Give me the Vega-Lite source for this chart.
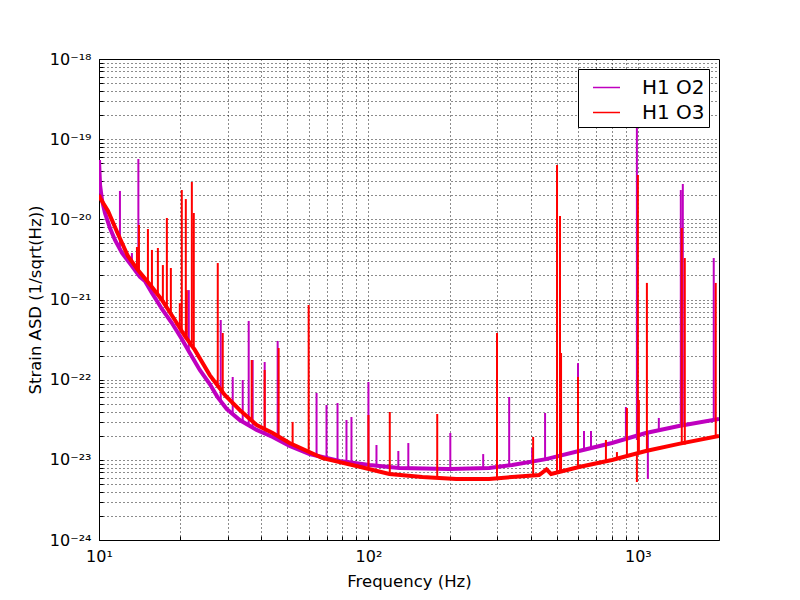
{
  "$schema": "https://vega.github.io/schema/vega-lite/v6.json",
  "width": 620,
  "height": 481,
  "autosize": "none",
  "padding": {"left": 99, "top": 59, "right": 81, "bottom": 60},
  "background": "white",
  "config": {
    "view": {"stroke": "black", "strokeWidth": 1},
    "font": "DejaVu Sans",
    "axis": {
      "grid": true,
      "gridDash": [1, 3],
      "gridColor": "#000000",
      "gridOpacity": 0.9,
      "gridWidth": 1,
      "domainColor": "#000000",
      "tickColor": "#000000",
      "tickSize": -4,
      "labelPadding": 12,
      "labelFont": "DejaVu Sans",
      "labelFontSize": 16,
      "labelColor": "#000000",
      "labelOverlap": false,
      "labelFlush": false,
      "labelBound": false,
      "titleFont": "DejaVu Sans",
      "titleFontSize": 16.5,
      "titleFontWeight": "normal",
      "titleColor": "#000000"
    },
    "legend": {
      "orient": "top-right",
      "offset": 10,
      "strokeColor": "#000000",
      "fillColor": "#ffffff",
      "padding": 4,
      "cornerRadius": 0,
      "labelFont": "DejaVu Sans",
      "labelFontSize": 20,
      "labelColor": "#000000",
      "labelOffset": 21,
      "symbolType": "stroke",
      "symbolSize": 729,
      "symbolOffset": 10,
      "symbolStrokeWidth": 1.5,
      "rowPadding": 0
    }
  },
  "datasets": {
    "baseline": [
      {"series": "H1 O2", "f": 10, "asd": 5.5e-20},
      {"series": "H1 O2", "f": 10.09, "asd": 2.68e-20},
      {"series": "H1 O2", "f": 10.26, "asd": 1.74e-20},
      {"series": "H1 O2", "f": 10.52, "asd": 1.2e-20},
      {"series": "H1 O2", "f": 10.98, "asd": 7.8e-21},
      {"series": "H1 O2", "f": 11.46, "asd": 5.53e-21},
      {"series": "H1 O2", "f": 12.17, "asd": 3.8e-21},
      {"series": "H1 O2", "f": 13.25, "asd": 2.62e-21},
      {"series": "H1 O2", "f": 14.19, "asd": 1.91e-21},
      {"series": "H1 O2", "f": 14.8, "asd": 1.7e-21},
      {"series": "H1 O2", "f": 15.72, "asd": 1.21e-21},
      {"series": "H1 O2", "f": 17.12, "asd": 7.61e-22},
      {"series": "H1 O2", "f": 18.64, "asd": 5.09e-22},
      {"series": "H1 O2", "f": 20.29, "asd": 3.22e-22},
      {"series": "H1 O2", "f": 21.73, "asd": 2.15e-22},
      {"series": "H1 O2", "f": 23.66, "asd": 1.32e-22},
      {"series": "H1 O2", "f": 25.77, "asd": 8.83e-23},
      {"series": "H1 O2", "f": 27.5, "asd": 6.1e-23},
      {"series": "H1 O2", "f": 29.8, "asd": 4.3e-23},
      {"series": "H1 O2", "f": 33.29, "asd": 3.14e-23},
      {"series": "H1 O2", "f": 38.47, "asd": 2.36e-23},
      {"series": "H1 O2", "f": 44.11, "asd": 1.93e-23},
      {"series": "H1 O2", "f": 50.98, "asd": 1.49e-23},
      {"series": "H1 O2", "f": 60.46, "asd": 1.18e-23},
      {"series": "H1 O2", "f": 78.1, "asd": 9.67e-24},
      {"series": "H1 O2", "f": 100.9, "asd": 8.63e-24},
      {"series": "H1 O2", "f": 130.2, "asd": 7.91e-24},
      {"series": "H1 O2", "f": 199.5, "asd": 7.69e-24},
      {"series": "H1 O2", "f": 280.6, "asd": 7.91e-24},
      {"series": "H1 O2", "f": 341.5, "asd": 8.63e-24},
      {"series": "H1 O2", "f": 456.3, "asd": 1.02e-23},
      {"series": "H1 O2", "f": 604.6, "asd": 1.29e-23},
      {"series": "H1 O2", "f": 801.3, "asd": 1.62e-23},
      {"series": "H1 O2", "f": 1070.5, "asd": 2.16e-23},
      {"series": "H1 O2", "f": 1419, "asd": 2.64e-23},
      {"series": "H1 O2", "f": 2000, "asd": 3.23e-23},
      {"series": "H1 O3", "f": 10, "asd": 2.01e-20},
      {"series": "H1 O3", "f": 10.09, "asd": 1.85e-20},
      {"series": "H1 O3", "f": 10.8, "asd": 1.27e-20},
      {"series": "H1 O3", "f": 11.76, "asd": 6.56e-21},
      {"series": "H1 O3", "f": 12.8, "asd": 3.49e-21},
      {"series": "H1 O3", "f": 13.95, "asd": 2.33e-21},
      {"series": "H1 O3", "f": 15.72, "asd": 1.43e-21},
      {"series": "H1 O3", "f": 17.12, "asd": 9.86e-22},
      {"series": "H1 O3", "f": 19.12, "asd": 5.55e-22},
      {"series": "H1 O3", "f": 20.82, "asd": 3.51e-22},
      {"series": "H1 O3", "f": 22.68, "asd": 2.35e-22},
      {"series": "H1 O3", "f": 25.77, "asd": 1.14e-22},
      {"series": "H1 O3", "f": 29.29, "asd": 6.44e-23},
      {"series": "H1 O3", "f": 33.29, "asd": 4.19e-23},
      {"series": "H1 O3", "f": 38.47, "asd": 2.72e-23},
      {"series": "H1 O3", "f": 44.11, "asd": 2.16e-23},
      {"series": "H1 O3", "f": 50.98, "asd": 1.62e-23},
      {"series": "H1 O3", "f": 67.55, "asd": 1.05e-23},
      {"series": "H1 O3", "f": 90.27, "asd": 8.38e-24},
      {"series": "H1 O3", "f": 119.6, "asd": 6.66e-24},
      {"series": "H1 O3", "f": 158.5, "asd": 6.11e-24},
      {"series": "H1 O3", "f": 211.8, "asd": 5.77e-24},
      {"series": "H1 O3", "f": 280.6, "asd": 5.77e-24},
      {"series": "H1 O3", "f": 341.5, "asd": 6.11e-24},
      {"series": "H1 O3", "f": 429.9, "asd": 6.47e-24},
      {"series": "H1 O3", "f": 458, "asd": 7.6e-24},
      {"series": "H1 O3", "f": 476.2, "asd": 6.66e-24},
      {"series": "H1 O3", "f": 604.6, "asd": 8.14e-24},
      {"series": "H1 O3", "f": 801.3, "asd": 9.96e-24},
      {"series": "H1 O3", "f": 1070.5, "asd": 1.29e-23},
      {"series": "H1 O3", "f": 1419, "asd": 1.58e-23},
      {"series": "H1 O3", "f": 2000, "asd": 1.98e-23}
    ],
    "spikes": [
      {"series": "H1 O2", "f": 11.96, "base": 4.15e-21, "peak": 2.26e-20},
      {"series": "H1 O2", "f": 13.25, "base": 2.62e-21, "peak": 3.8e-21},
      {"series": "H1 O2", "f": 14.0, "base": 2.02e-21, "peak": 5.66e-20},
      {"series": "H1 O2", "f": 21.54, "base": 2.35e-22, "peak": 1.31e-21},
      {"series": "H1 O2", "f": 28.3, "base": 5.2e-23, "peak": 5.55e-22},
      {"series": "H1 O2", "f": 31.35, "base": 3.73e-23, "peak": 1.08e-22},
      {"series": "H1 O2", "f": 34.15, "base": 3.05e-23, "peak": 9.91e-23},
      {"series": "H1 O2", "f": 35.94, "base": 2.8e-23, "peak": 5.4e-22},
      {"series": "H1 O2", "f": 37.18, "base": 2.57e-23, "peak": 1.76e-22},
      {"series": "H1 O2", "f": 41.2, "base": 2.22e-23, "peak": 1.66e-22},
      {"series": "H1 O2", "f": 46.03, "base": 1.82e-23, "peak": 3.04e-22},
      {"series": "H1 O2", "f": 64.18, "base": 1.15e-23, "peak": 6.82e-23},
      {"series": "H1 O2", "f": 69.88, "base": 1.08e-23, "peak": 4.83e-23},
      {"series": "H1 O2", "f": 76.78, "base": 9.96e-24, "peak": 5.12e-23},
      {"series": "H1 O2", "f": 82.88, "base": 9.4e-24, "peak": 3.14e-23},
      {"series": "H1 O2", "f": 86.49, "base": 9.14e-24, "peak": 3.42e-23},
      {"series": "H1 O2", "f": 100, "base": 8.63e-24, "peak": 9.36e-23},
      {"series": "H1 O2", "f": 107.1, "base": 8.38e-24, "peak": 1.53e-23},
      {"series": "H1 O2", "f": 129.1, "base": 7.91e-24, "peak": 1.29e-23},
      {"series": "H1 O2", "f": 140.6, "base": 7.91e-24, "peak": 1.62e-23},
      {"series": "H1 O2", "f": 201.3, "base": 7.69e-24, "peak": 2.16e-23},
      {"series": "H1 O2", "f": 266.6, "base": 7.91e-24, "peak": 1.18e-23},
      {"series": "H1 O2", "f": 332.9, "base": 8.38e-24, "peak": 6.08e-23},
      {"series": "H1 O2", "f": 405, "base": 9.4e-24, "peak": 1.41e-23},
      {"series": "H1 O2", "f": 452.4, "base": 9.96e-24, "peak": 3.84e-23},
      {"series": "H1 O2", "f": 599.5, "base": 1.29e-23, "peak": 1.61e-22},
      {"series": "H1 O2", "f": 631, "base": 1.33e-23, "peak": 2.29e-23},
      {"series": "H1 O2", "f": 669.8, "base": 1.37e-23, "peak": 2.29e-23},
      {"series": "H1 O2", "f": 902.7, "base": 1.88e-23, "peak": 4.56e-23},
      {"series": "H1 O2", "f": 991.5, "base": 1.77e-23, "peak": 4.11e-19},
      {"series": "H1 O2", "f": 1089, "base": 2.2e-23, "peak": 5.77e-24},
      {"series": "H1 O2", "f": 1196, "base": 2.36e-23, "peak": 3.33e-23},
      {"series": "H1 O2", "f": 1443, "base": 2.64e-23, "peak": 2.32e-20},
      {"series": "H1 O2", "f": 1468, "base": 2.64e-23, "peak": 2.76e-20},
      {"series": "H1 O2", "f": 1912, "base": 3.14e-23, "peak": 3.29e-21},
      {"series": "H1 O3", "f": 13.83, "base": 2.45e-21, "peak": 4.52e-21},
      {"series": "H1 O3", "f": 14.07, "base": 2.33e-21, "peak": 8.5e-21},
      {"series": "H1 O3", "f": 15.19, "base": 1.61e-21, "peak": 7.58e-21},
      {"series": "H1 O3", "f": 15.72, "base": 1.43e-21, "peak": 4.15e-21},
      {"series": "H1 O3", "f": 16.54, "base": 1.14e-21, "peak": 4.39e-21},
      {"series": "H1 O3", "f": 17.26, "base": 9.3e-22, "peak": 2.69e-21},
      {"series": "H1 O3", "f": 17.86, "base": 8.07e-22, "peak": 1.04e-20},
      {"series": "H1 O3", "f": 18.48, "base": 6.8e-22, "peak": 2.47e-21},
      {"series": "H1 O3", "f": 19.95, "base": 4.6e-22, "peak": 9.05e-22},
      {"series": "H1 O3", "f": 20.29, "base": 4.17e-22, "peak": 2.32e-20},
      {"series": "H1 O3", "f": 21.0, "base": 3.51e-22, "peak": 1.79e-20},
      {"series": "H1 O3", "f": 21.18, "base": 3.4e-22, "peak": 1.31e-21},
      {"series": "H1 O3", "f": 22.11, "base": 2.87e-22, "peak": 2.92e-20},
      {"series": "H1 O3", "f": 22.48, "base": 2.6e-22, "peak": 1.2e-20},
      {"series": "H1 O3", "f": 27.59, "base": 8.83e-23, "peak": 2.85e-21},
      {"series": "H1 O3", "f": 28.79, "base": 6.82e-23, "peak": 3.82e-22},
      {"series": "H1 O3", "f": 36.87, "base": 3.23e-23, "peak": 1.76e-22},
      {"series": "H1 O3", "f": 41.2, "base": 2.5e-23, "peak": 1.32e-22},
      {"series": "H1 O3", "f": 46.42, "base": 2.04e-23, "peak": 2.48e-22},
      {"series": "H1 O3", "f": 52.31, "base": 1.58e-23, "peak": 2.97e-23},
      {"series": "H1 O3", "f": 60, "base": 1.33e-23, "peak": 8.54e-22},
      {"series": "H1 O3", "f": 100, "base": 8.14e-24, "peak": 3.63e-23},
      {"series": "H1 O3", "f": 120, "base": 6.66e-24, "peak": 3.95e-23},
      {"series": "H1 O3", "f": 180, "base": 5.94e-24, "peak": 3.73e-23},
      {"series": "H1 O3", "f": 300, "base": 5.77e-24, "peak": 3.82e-22},
      {"series": "H1 O3", "f": 408.5, "base": 6.29e-24, "peak": 1.93e-23},
      {"series": "H1 O3", "f": 501, "base": 7.05e-24, "peak": 4.76e-20},
      {"series": "H1 O3", "f": 514, "base": 7.2e-24, "peak": 1.1e-20},
      {"series": "H1 O3", "f": 518.6, "base": 7.2e-24, "peak": 2.15e-22},
      {"series": "H1 O3", "f": 599.5, "base": 8.14e-24, "peak": 1.08e-22},
      {"series": "H1 O3", "f": 761, "base": 9.4e-24, "peak": 1.77e-23},
      {"series": "H1 O3", "f": 836, "base": 1.02e-23, "peak": 1.25e-23},
      {"series": "H1 O3", "f": 910.6, "base": 1.1e-23, "peak": 4.43e-23},
      {"series": "H1 O3", "f": 991.5, "base": 1.15e-23, "peak": 5.29e-24},
      {"series": "H1 O3", "f": 1000, "base": 1.18e-23, "peak": 3.57e-20},
      {"series": "H1 O3", "f": 1008.6, "base": 1.18e-23, "peak": 5.58e-23},
      {"series": "H1 O3", "f": 1080, "base": 1.29e-23, "peak": 1.61e-21},
      {"series": "H1 O3", "f": 1455, "base": 1.53e-23, "peak": 7.8e-21},
      {"series": "H1 O3", "f": 1493, "base": 1.55e-23, "peak": 3.29e-21},
      {"series": "H1 O3", "f": 1945, "base": 1.93e-23, "peak": 1.61e-21}
    ]
  },
  "encoding": {
    "x": {
      "field": "f",
      "type": "quantitative",
      "title": "Frequency (Hz)",
      "scale": {"type": "log", "domain": [10, 2000], "nice": false},
      "axis": {
        "values": [10, 20, 30, 40, 50, 60, 70, 80, 90, 100, 200, 300, 400, 500, 600, 700, 800, 900, 1000],
        "labelExpr": "datum.value == 10 ? '10¹' : datum.value == 100 ? '10²' : datum.value == 1000 ? '10³' : ''",
        "titlePadding": 9
      }
    },
    "color": {
      "field": "series",
      "type": "nominal",
      "scale": {"domain": ["H1 O2", "H1 O3"], "range": ["#bf00bf", "#ff0000"]},
      "legend": {"title": null}
    }
  },
  "layer": [
    {
      "data": {"name": "baseline"},
      "transform": [{"filter": "datum.series == 'H1 O2'"}],
      "mark": {"type": "line", "strokeWidth": 4, "clip": true},
      "encoding": {
        "y": {
          "field": "asd",
          "type": "quantitative",
          "title": "Strain ASD (1/sqrt(Hz))",
          "scale": {"type": "log", "domain": [1e-24, 1e-18], "nice": false},
          "axis": {
            "values": [1e-24, 2e-24, 3e-24, 4e-24, 5e-24, 6e-24, 7e-24, 8e-24, 9e-24, 1e-23, 2e-23, 3e-23, 4e-23, 5e-23, 6e-23, 7e-23, 8e-23, 9e-23, 1e-22, 2e-22, 3e-22, 4e-22, 5e-22, 6e-22, 7e-22, 8e-22, 9e-22, 1e-21, 2e-21, 3e-21, 4e-21, 5e-21, 6e-21, 7e-21, 8e-21, 9e-21, 1e-20, 2e-20, 3e-20, 4e-20, 5e-20, 6e-20, 7e-20, 8e-20, 9e-20, 1e-19, 2e-19, 3e-19, 4e-19, 5e-19, 6e-19, 7e-19, 8e-19, 9e-19, 1e-18],
            "labelExpr": "datum.value == 1e-18 ? '10⁻¹⁸' : datum.value == 1e-19 ? '10⁻¹⁹' : datum.value == 1e-20 ? '10⁻²⁰' : datum.value == 1e-21 ? '10⁻²¹' : datum.value == 1e-22 ? '10⁻²²' : datum.value == 1e-23 ? '10⁻²³' : datum.value == 1e-24 ? '10⁻²⁴' : ''",
            "titlePadding": 6
          }
        }
      }
    },
    {
      "data": {"name": "spikes"},
      "transform": [{"filter": "datum.series == 'H1 O2'"}],
      "mark": {"type": "rule", "strokeWidth": 2, "clip": true},
      "encoding": {
        "y": {"field": "peak", "type": "quantitative"},
        "y2": {"field": "base"}
      }
    },
    {
      "data": {"name": "baseline"},
      "transform": [{"filter": "datum.series == 'H1 O3'"}],
      "mark": {"type": "line", "strokeWidth": 4, "clip": true},
      "encoding": {
        "y": {"field": "asd", "type": "quantitative"}
      }
    },
    {
      "data": {"name": "spikes"},
      "transform": [{"filter": "datum.series == 'H1 O3'"}],
      "mark": {"type": "rule", "strokeWidth": 2, "clip": true},
      "encoding": {
        "y": {"field": "peak", "type": "quantitative"},
        "y2": {"field": "base"}
      }
    }
  ]
}
